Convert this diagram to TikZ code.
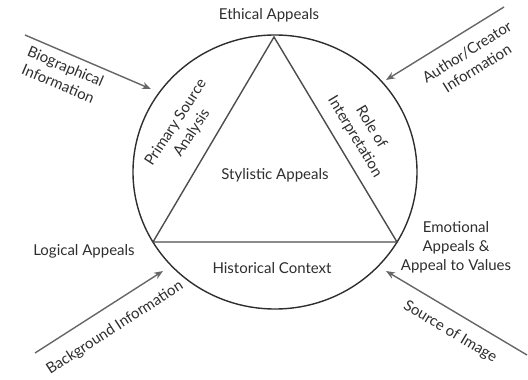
\documentclass[tikz,border=0pt]{standalone}
\usepackage{fontspec}
\setmainfont{Lato}
\usetikzlibrary{arrows.meta}
\definecolor{ink}{HTML}{2e2e2e}
\definecolor{arr}{HTML}{666666}
\begin{document}
\begin{tikzpicture}[x=1pt,y=-1pt,
  lbl/.style={text=ink,font=\fontsize{15}{19}\selectfont,align=center,inner sep=0pt},
  shp/.style={draw=ink,line width=1.4pt},
  arrw/.style={draw=arr,line width=1.4pt,-{Stealth[length=9pt,width=7pt]}}]
\useasboundingbox (0,0) rectangle (528,380);
% circle
\draw[shp] (275,172) ellipse [x radius=142pt, y radius=137pt];
% triangle
\coordinate (A) at (274,37);
\coordinate (B) at (153,242);
\coordinate (C) at (397,242);
\draw[shp,draw=ink!85,line join=miter] (A) -- (B) -- (C) -- cycle;
% labels
\node[lbl] (eth) at (269,15) {Ethical Appeals};
\node[lbl] (sty) at (275,175) {Stylistic Appeals};
\node[lbl] (his) at (272,268) {Historical Context};
\node[lbl] (log) at (84,251) {Logical Appeals};
\node[lbl] (emo) at (456,247) {Emotional\\Appeals \&\\Appeal to Values};
\node[lbl,rotate=57] (psa) at (184,128) {Primary Source\\Analysis};
\node[lbl,rotate=-59] (roi) at (363,132) {Role of\\Interpretation};
\node[lbl,rotate=-23] (bio) at (62,75) {Biographical\\Information};
\node[lbl,rotate=32] (aut) at (472,60) {Author/Creator\\Information};
\node[lbl,rotate=33] (bkg) at (115,328) {Background Information};
\node[lbl,rotate=-31] (src) at (450,332) {Source of Image};
% arrows
\coordinate (b0) at (25,35);  \coordinate (b1) at (151,89);
\coordinate (a0) at (504,7);  \coordinate (a1) at (386,80);
\coordinate (g0) at (35,353); \coordinate (g1) at (163,271);
\coordinate (s0) at (527,355);\coordinate (s1) at (386,271);
\draw[arrw] (b0) -- (b1);
\draw[arrw] (a0) -- (a1);
\draw[arrw] (g0) -- (g1);
\draw[arrw] (s0) -- (s1);
\end{tikzpicture}
\end{document}
